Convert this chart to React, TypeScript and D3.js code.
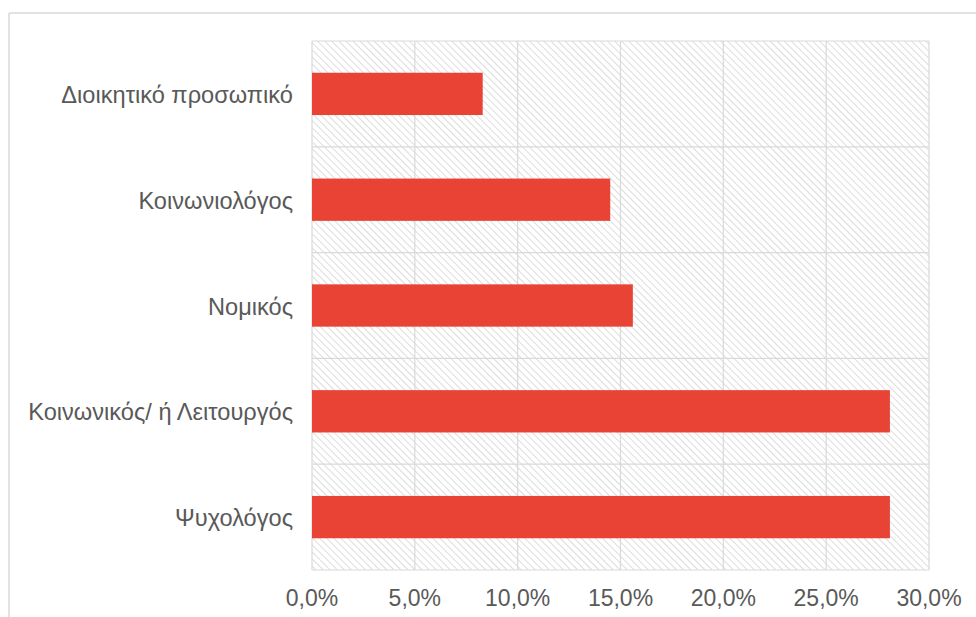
import React from "react";
import * as d3 from "d3";

const categories = [
  "Διοικητικό προσωπικό",
  "Κοινωνιολόγος",
  "Νομικός",
  "Κοινωνικός/ ή Λειτουργός",
  "Ψυχολόγος",
];
const values = [8.3, 14.5, 15.6, 28.1, 28.1];
const xTicks = [0, 5, 10, 15, 20, 25, 30];

const W = 976;
const H = 617;
const plot = { left: 312, right: 929, top: 41, bottom: 570 };

export default function App() {
  const x = d3.scaleLinear().domain([0, 30]).range([plot.left, plot.right]);
  const y = d3
    .scaleBand<string>()
    .domain(categories)
    .range([plot.top, plot.bottom])
    .paddingInner(0.6)
    .paddingOuter(0.3);
  const step = y.step();
  const fmt = (v: number) => v.toFixed(1).replace(".", ",") + "%";
  const font = "'Liberation Sans', Arial, sans-serif";
  const textColor = "#595959";
  const grid = "#d9d9d9";

  return (
    <svg
      width={W}
      height={H}
      style={{ position: "absolute", left: 0, top: 0, background: "#fff" }}
    >
      <defs>
        <pattern
          id="hatch"
          patternUnits="userSpaceOnUse"
          width={5}
          height={5}
          patternTransform="rotate(-45)"
        >
          <rect width={5} height={5} fill="#ffffff" />
          <line x1={0} y1={0} x2={0} y2={5} stroke="#d4d4d4" strokeWidth={1.6} />
        </pattern>
      </defs>
      {/* outer chart border */}
      <line x1={9} y1={13} x2={W} y2={13} stroke={grid} strokeWidth={1.5} />
      <line x1={9} y1={13} x2={9} y2={H} stroke={grid} strokeWidth={1.5} />

      {/* plot background */}
      <rect
        x={plot.left}
        y={plot.top}
        width={plot.right - plot.left}
        height={plot.bottom - plot.top}
        fill="url(#hatch)"
      />
      {/* vertical gridlines */}
      {xTicks.map((t) => (
        <line
          key={"v" + t}
          x1={x(t)}
          x2={x(t)}
          y1={plot.top}
          y2={plot.bottom}
          stroke={grid}
          strokeWidth={1.2}
        />
      ))}
      {/* horizontal category separators */}
      {categories.map((c, i) => (
        <line
          key={"h" + i}
          x1={plot.left}
          x2={plot.right}
          y1={plot.top + i * step}
          y2={plot.top + i * step}
          stroke={grid}
          strokeWidth={1.2}
        />
      ))}
      <line
        x1={plot.left}
        x2={plot.right}
        y1={plot.bottom}
        y2={plot.bottom}
        stroke={grid}
        strokeWidth={1.2}
      />

      {/* bars */}
      {categories.map((c, i) => (
        <rect
          key={"b" + c}
          x={x(0)}
          y={y(c)!}
          width={x(values[i]) - x(0)}
          height={y.bandwidth()}
          fill="#e84335"
        />
      ))}

      {/* category labels */}
      {categories.map((c) => (
        <text
          key={"l" + c}
          x={293}
          y={y(c)! + y.bandwidth() / 2 + 1}
          textAnchor="end"
          dominantBaseline="central"
          fontFamily={font}
          fontSize={23.6}
          fill={textColor}
        >
          {c}
        </text>
      ))}

      {/* x tick labels */}
      {xTicks.map((t) => (
        <text
          key={"t" + t}
          x={x(t)}
          y={598}
          textAnchor="middle"
          dominantBaseline="central"
          fontFamily={font}
          fontSize={23}
          fill={textColor}
        >
          {fmt(t)}
        </text>
      ))}
    </svg>
  );
}
